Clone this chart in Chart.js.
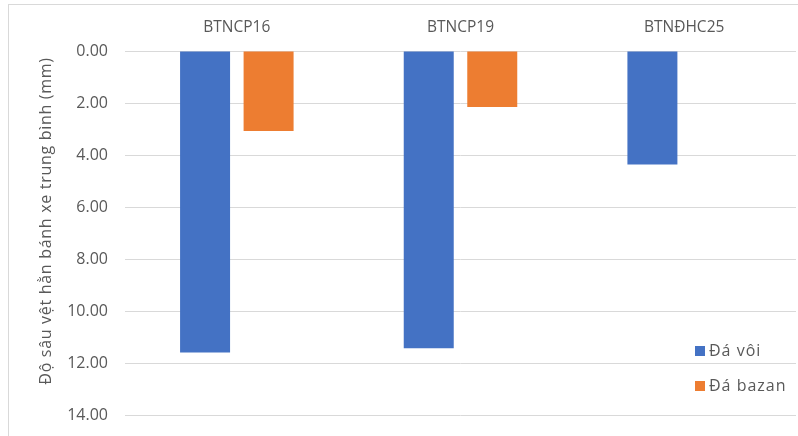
<!DOCTYPE html>
<html>
<head>
<meta charset="utf-8">
<script src="https://cdn.jsdelivr.net/npm/chart.js@4/dist/chart.umd.min.js"></script>
<style>
  html, body { margin: 0; padding: 0; background: #ffffff; overflow: hidden; }
  #wrap { width: 798px; height: 436px; position: relative; }
  #c { display: block; }
</style>
</head>
<body>
<div id="wrap"><canvas id="c"></canvas></div>
<script>
// Mix types and measured average rut depths (mm)
const categories = ['BTNCP16', 'BTNCP19', 'BTNĐHC25'];
const limestone = [11.6, 11.43, 4.37];
const basalt = [3.08, 2.15, null];
const seriesNames = ['Đá vôi', 'Đá bazan'];
const axisTitle = 'Độ sâu vệt hằn bánh xe trung bình (mm)';

const textColor = '#595959';
const gridColor = '#d9d9d9';
const fontFamily = '"Open Sans", "Noto Sans", sans-serif';

// White background and thin outer frame
const framePlugin = {
  id: 'frame',
  beforeDraw(chart) {
    const ctx = chart.ctx;
    ctx.save();
    ctx.fillStyle = '#ffffff';
    ctx.fillRect(0, 0, chart.width, chart.height);
    ctx.strokeStyle = gridColor;
    ctx.lineWidth = 1;
    ctx.strokeRect(8.5, 4.5, chart.width, chart.height);
    ctx.restore();
  }
};

// Rotated value-axis title
const axisTitlePlugin = {
  id: 'axisTitle',
  afterDraw(chart) {
    const ctx = chart.ctx;
    ctx.save();
    ctx.translate(46, 221);
    ctx.rotate(-Math.PI / 2);
    ctx.font = '16px ' + fontFamily;
    if ('letterSpacing' in ctx) ctx.letterSpacing = '0.7px';
    ctx.fillStyle = textColor;
    ctx.textAlign = 'center';
    ctx.textBaseline = 'middle';
    ctx.fillText(axisTitle, 0, 0);
    ctx.restore();
  }
};

// Legend drawn inside the plot, lower right
const legendPlugin = {
  id: 'innerLegend',
  afterDraw(chart) {
    const ctx = chart.ctx;
    ctx.save();
    ctx.font = '16px ' + fontFamily;
    if ('letterSpacing' in ctx) ctx.letterSpacing = '1px';
    ctx.textBaseline = 'middle';
    ctx.textAlign = 'left';
    const rows = [351, 386];
    chart.data.datasets.forEach((ds, i) => {
      const y = rows[i];
      ctx.fillStyle = ds.backgroundColor;
      ctx.fillRect(695, y - 5, 10, 10);
      ctx.fillStyle = textColor;
      ctx.fillText(ds.label, 709, y);
    });
    ctx.restore();
  }
};

new Chart(document.getElementById('c'), {
  type: 'bar',
  data: {
    labels: categories,
    datasets: [
      { label: seriesNames[0], data: limestone, backgroundColor: '#4472C4' },
      { label: seriesNames[1], data: basalt, backgroundColor: '#ED7D31' }
    ]
  },
  options: {
    responsive: true,
    maintainAspectRatio: false,
    animation: false,
    devicePixelRatio: 1,
    categoryPercentage: 0.568,
    barPercentage: 0.787,
    layout: { padding: { left: 0, right: 2, top: 0, bottom: 21 } },
    plugins: {
      legend: { display: false },
      tooltip: { enabled: false }
    },
    scales: {
      x: {
        position: 'top',
        grid: { display: false, drawTicks: false },
        border: { display: false },
        ticks: {
          color: textColor,
          font: { family: fontFamily, size: 15.5 },
          padding: 14
        },
        afterFit(scale) { scale.height = 51; }
      },
      y: {
        reverse: true,
        min: 0,
        max: 14,
        grid: { color: gridColor, lineWidth: 1, drawTicks: false },
        border: { display: false },
        ticks: {
          stepSize: 2,
          color: textColor,
          font: { family: fontFamily, size: 16 },
          padding: 17,
          callback: v => Number(v).toFixed(2)
        },
        afterFit(scale) {
          scale.width = 125;
          scale.paddingTop = 0;
          scale.paddingBottom = 0;
        }
      }
    }
  },
  plugins: [framePlugin, axisTitlePlugin, legendPlugin]
});
</script>
</body>
</html>
